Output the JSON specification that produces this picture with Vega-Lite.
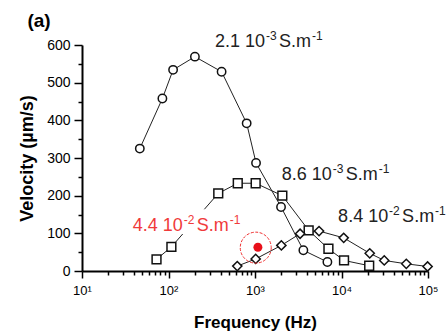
{
  "$schema": "https://vega.github.io/schema/vega-lite/v6.json",
  "width": 346,
  "height": 226,
  "autosize": "none",
  "padding": {"left": 82, "top": 45, "right": 20, "bottom": 65},
  "background": "white",
  "config": {
    "view": {"stroke": null},
    "font": "Liberation Sans",
    "axis": {"domainColor": "black", "tickColor": "black", "labelColor": "black", "titleColor": "black", "grid": false, "labelFont": "Liberation Sans", "titleFont": "Liberation Sans"}
  },
  "datasets": {
    "pts": [
      {"series": "a", "f": 46.6, "v": 325},
      {"series": "a", "f": 85, "v": 458},
      {"series": "a", "f": 113, "v": 534},
      {"series": "a", "f": 202, "v": 569},
      {"series": "a", "f": 411, "v": 529},
      {"series": "a", "f": 801, "v": 392},
      {"series": "a", "f": 1028, "v": 287},
      {"series": "a", "f": 2000, "v": 170},
      {"series": "a", "f": 3624, "v": 55},
      {"series": "a", "f": 6870, "v": 24},
      {"series": "b", "f": 72.7, "v": 31},
      {"series": "b", "f": 108, "v": 64},
      {"series": "b", "f": 376, "v": 206},
      {"series": "b", "f": 632, "v": 233},
      {"series": "b", "f": 1018, "v": 233},
      {"series": "b", "f": 2070, "v": 200},
      {"series": "b", "f": 4170, "v": 108},
      {"series": "b", "f": 7060, "v": 59},
      {"series": "b", "f": 10700, "v": 28},
      {"series": "b", "f": 20900, "v": 14},
      {"series": "c", "f": 624, "v": 13},
      {"series": "c", "f": 1018, "v": 32},
      {"series": "c", "f": 2017, "v": 68},
      {"series": "c", "f": 3320, "v": 99},
      {"series": "c", "f": 5500, "v": 106},
      {"series": "c", "f": 10600, "v": 88},
      {"series": "c", "f": 21200, "v": 47},
      {"series": "c", "f": 31200, "v": 28},
      {"series": "c", "f": 56100, "v": 19},
      {"series": "c", "f": 98900, "v": 12}
    ],
    "labels": [
      {"num": "2.1 10", "exp": "-3", "unit": "S.m", "uexp": "-1", "kind": "n", "f": 344, "v": 595},
      {"num": "8.6 10", "exp": "-3", "unit": "S.m", "uexp": "-1", "kind": "n", "f": 2037, "v": 241},
      {"num": "8.4 10", "exp": "-2", "unit": "S.m", "uexp": "-1", "kind": "n", "f": 9140, "v": 130},
      {"num": "4.4 10", "exp": "-2", "unit": "S.m", "uexp": "-1", "kind": "r", "f": 38.7, "v": 106}
    ],
    "mask": [{"f1": 36, "f2": 870, "v1": 98, "v2": 164}],
    "ring": [{"f": 1020, "v": 62}],
    "dot": [{"f": 1080, "v": 63}],
    "panel": [{"t": "(a)", "f": 3.19, "v": 663}]
  },
  "layer": [
    {
      "data": {"name": "pts"},
      "mark": {"type": "line", "color": "#222", "strokeWidth": 1},
      "encoding": {
        "x": {"field": "f", "type": "quantitative", "scale": {"type": "log", "domain": [10, 100000]},
          "axis": {"orient": "bottom", "values": [10, 100, 1000, 10000, 100000],
            "labelExpr": "datum.value == 10 ? '10¹' : datum.value == 100 ? '10²' : datum.value == 1000 ? '10³' : datum.value == 10000 ? '10⁴' : '10⁵'",
            "tickSize": 7, "tickWidth": 1.5, "domainWidth": 2, "labelFontSize": 13, "labelPadding": 6, "labelFlush": false,
            "title": "Frequency (Hz)", "titleFontSize": 17, "titleFontWeight": "bold", "titlePadding": 17}},
        "y": {"field": "v", "type": "quantitative", "scale": {"domain": [0, 600], "nice": false},
          "axis": {"orient": "left", "values": [0, 100, 200, 300, 400, 500, 600], "tickSize": 8, "tickWidth": 1.5, "domainWidth": 2,
            "labelFontSize": 14, "labelPadding": 4, "title": "Velocity (µm/s)", "titleFontSize": 18, "titleFontWeight": "bold", "titlePadding": 10}},
        "detail": {"field": "series"},
        "order": {"field": "f", "type": "quantitative"}
      }
    },
    {
      "data": {"name": "pts"},
      "mark": {"type": "point", "filled": true, "fill": "white", "stroke": "#111", "strokeWidth": 1.5, "opacity": 1},
      "encoding": {
        "x": {"field": "f", "type": "quantitative",
          "axis": {"orient": "bottom", "values": [20,30,40,50,60,70,80,90,200,300,400,500,600,700,800,900,2000,3000,4000,5000,6000,7000,8000,9000,20000,30000,40000,50000,60000,70000,80000,90000],
            "tickSize": 4, "tickWidth": 1.5, "labels": false, "domain": false, "title": null}},
        "y": {"field": "v", "type": "quantitative",
          "axis": {"orient": "left", "values": [50, 150, 250, 350, 450, 550], "tickSize": 4, "tickWidth": 1.5, "labels": false, "domain": false, "title": null}},
        "shape": {"field": "series", "type": "nominal", "scale": {"domain": ["a", "b", "c"], "range": ["circle", "square", "diamond"]}, "legend": null},
        "size": {"field": "series", "type": "nominal", "scale": {"domain": ["a", "b", "c"], "range": [70, 85, 95]}, "legend": null}
      }
    },
    {
      "data": {"name": "mask"},
      "mark": {"type": "rect", "fill": "white"},
      "encoding": {
        "x": {"field": "f1", "type": "quantitative", "axis": null},
        "x2": {"field": "f2"},
        "y": {"field": "v1", "type": "quantitative", "axis": null},
        "y2": {"field": "v2"}
      }
    },
    {
      "data": {"name": "labels"},
      "mark": {"type": "text", "align": "left", "baseline": "alphabetic", "fontSize": 18},
      "encoding": {
        "x": {"field": "f", "type": "quantitative", "axis": null},
        "y": {"field": "v", "type": "quantitative", "axis": null},
        "text": {"field": "num"},
        "color": {"field": "kind", "type": "nominal", "scale": {"domain": ["n", "r"], "range": ["#222", "#f03a3a"]}, "legend": null}
      }
    },
    {
      "data": {"name": "labels"},
      "mark": {"type": "text", "align": "left", "baseline": "alphabetic", "fontSize": 12, "dx": 51, "dy": -7},
      "encoding": {
        "x": {"field": "f", "type": "quantitative", "axis": null},
        "y": {"field": "v", "type": "quantitative", "axis": null},
        "text": {"field": "exp"},
        "color": {"field": "kind", "type": "nominal", "scale": {"domain": ["n", "r"], "range": ["#222", "#f03a3a"]}, "legend": null}
      }
    },
    {
      "data": {"name": "labels"},
      "mark": {"type": "text", "align": "left", "baseline": "alphabetic", "fontSize": 18, "dx": 64},
      "encoding": {
        "x": {"field": "f", "type": "quantitative", "axis": null},
        "y": {"field": "v", "type": "quantitative", "axis": null},
        "text": {"field": "unit"},
        "color": {"field": "kind", "type": "nominal", "scale": {"domain": ["n", "r"], "range": ["#222", "#f03a3a"]}, "legend": null}
      }
    },
    {
      "data": {"name": "labels"},
      "mark": {"type": "text", "align": "left", "baseline": "alphabetic", "fontSize": 12, "dx": 97, "dy": -7},
      "encoding": {
        "x": {"field": "f", "type": "quantitative", "axis": null},
        "y": {"field": "v", "type": "quantitative", "axis": null},
        "text": {"field": "uexp"},
        "color": {"field": "kind", "type": "nominal", "scale": {"domain": ["n", "r"], "range": ["#222", "#f03a3a"]}, "legend": null}
      }
    },
    {
      "data": {"name": "ring"},
      "mark": {"type": "point", "shape": "circle", "size": 960, "filled": false, "stroke": "#f03030", "strokeWidth": 1, "strokeDash": [3, 1.5], "opacity": 1},
      "encoding": {
        "x": {"field": "f", "type": "quantitative", "axis": null},
        "y": {"field": "v", "type": "quantitative", "axis": null}
      }
    },
    {
      "data": {"name": "dot"},
      "mark": {"type": "point", "shape": "circle", "size": 80, "filled": true, "color": "#e8101a", "opacity": 1},
      "encoding": {
        "x": {"field": "f", "type": "quantitative", "axis": null},
        "y": {"field": "v", "type": "quantitative", "axis": null}
      }
    },
    {
      "data": {"name": "panel"},
      "mark": {"type": "text", "align": "center", "baseline": "middle", "fontSize": 19, "fontWeight": "bold", "color": "black"},
      "encoding": {
        "x": {"field": "f", "type": "quantitative", "axis": null},
        "y": {"field": "v", "type": "quantitative", "axis": null},
        "text": {"field": "t"}
      }
    }
  ],
  "resolve": {"axis": {"x": "independent", "y": "independent"}}
}
